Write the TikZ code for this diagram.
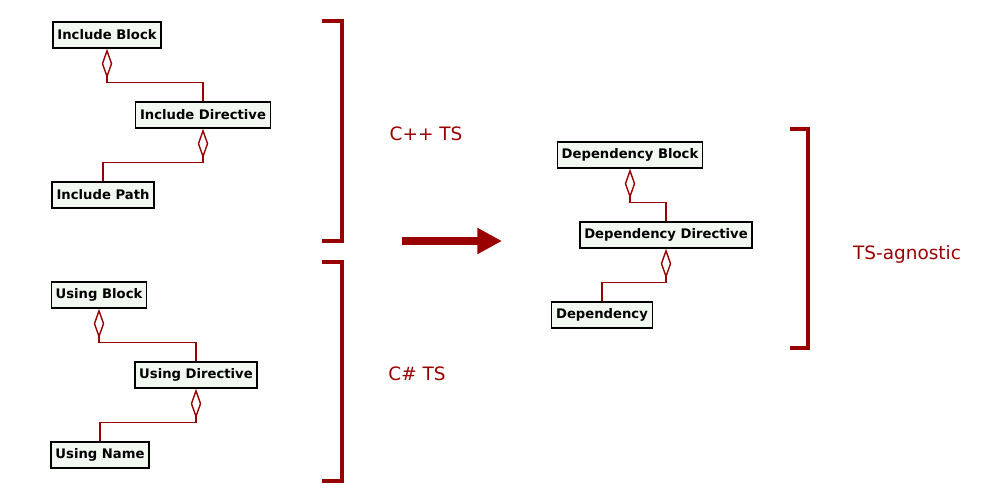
\documentclass[tikz,border=0pt]{standalone}
\usepackage{fontspec}
\setmainfont{DejaVu Sans}
\usetikzlibrary{arrows.meta}
\definecolor{dred}{HTML}{990000}
\definecolor{boxfill}{HTML}{F0F8F0}
\begin{document}
\begin{tikzpicture}[x=0.02cm,y=-0.02cm,
  box/.style={draw,thick,fill=boxfill,font=\bfseries\fontsize{7.5}{9}\selectfont,inner sep=2.5pt,minimum height=0.52cm},
  agg/.style={dred,{Diamond[open,length=17pt,width=6pt,line width=0.8pt]}-,line width=0.8pt},
  brk/.style={dred,line width=2pt},
  lbl/.style={dred,font=\fontsize{10.5}{12}\selectfont}]
  \useasboundingbox (0,0) rectangle (1003,503);
  % C++ side
  \node[box] (ib) at (107,35) {Include Block};
  \node[box] (id) at (203,115) {Include Directive};
  \node[box] (ip) at (103,195) {Include Path};
  % C# side
  \node[box] (ub) at (99,295) {Using Block};
  \node[box] (ud) at (196,375) {Using Directive};
  \node[box] (un) at (100,455) {Using Name};
  % result
  \node[box] (db) at (630,155) {Dependency Block};
  \node[box] (dd) at (666,235) {Dependency Directive};
  \node[box] (dp) at (602,315) {Dependency};
  \foreach \a/\b in {ib/id, id/ip, ub/ud, ud/un, db/dd, dd/dp}
    \draw[agg] (\a.south) -- ++(0,34) -| (\b.north);
  % brackets
  \draw[brk] (322,21) -- (342,21) -- (342,241) -- (322,241);
  \draw[brk] (322,262) -- (342,262) -- (342,481) -- (322,481);
  \draw[brk] (790,129) -- (808,129) -- (808,348) -- (790,348);
  \node[lbl] (cpp) at (426,134) {C++ TS};
  \node[lbl] (cs) at (417,374) {C\# TS};
  \node[lbl] (agn) at (907,254) {TS-agnostic};
  \coordinate (from) at (402,241);
  \coordinate (to) at (502,241);
  \draw[dred,line width=5pt,-{Triangle[length=14pt,width=14pt]}] (from) -- (to);
\end{tikzpicture}
\end{document}
